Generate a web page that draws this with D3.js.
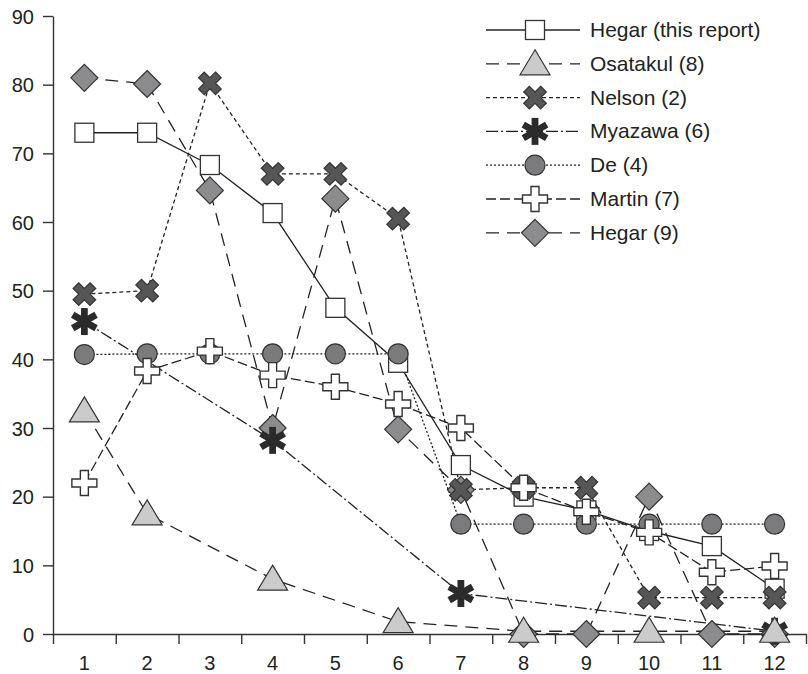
<!DOCTYPE html>
<html>
<head>
<meta charset="utf-8">
<script src="https://cdn.jsdelivr.net/npm/d3@7"></script>
<style>
  body { margin: 0; background: #fff; }
  svg { display: block; font-family: "Liberation Sans", Arial, sans-serif; }
  .axis path, .axis line { stroke: #333; stroke-width: 1.4; }
  .axis text { font-size: 20px; fill: #222; }
</style>
</head>
<body>
<svg id="chart" width="808" height="674"></svg>
<script>
// categories on the x axis
const categories = ["1", "2", "3", "4", "5", "6", "7", "8", "9", "10", "11", "12"];
const yTicks = [0, 10, 20, 30, 40, 50, 60, 70, 80, 90];

// series values (null = no point)
const hegarThis = [73, 73, 68.3, 61.3, 47.5, 39.5, 24.6, 20, 18, 15, 12.8, 6.6];
const osatakul = [32.5, 17.5, null, 8, null, 1.8, null, 0.4, null, 0.4, null, 0.4];
const nelson = [49.5, 50, 80.2, 67, 67, 60.5, 21, 21.3, 21.3, 5.3, 5.3, 5.3];
const myazawa = [45.5, null, null, 28.2, null, null, 5.9, null, null, null, null, 0.4];
const de = [40.7, 40.8, 40.8, 40.8, 40.8, 40.8, 16, 16, 16, 16, 16, 16];
const martin = [22, 38.3, 41.2, 37.7, 36, 33.5, 30, 21.3, 17.8, 14.8, 9, 9.9];
const hegar9 = [81, 80.1, 64.6, 30, 63.4, 29.8, 21, 0, 0, 20, 0, 0];

const legendNames = ["Hegar (this report)", "Osatakul (8)", "Nelson (2)", "Myazawa (6)", "De (4)", "Martin (7)", "Hegar (9)"];

// marker shapes
const plusPts = (a, t) => [[-t,-a],[t,-a],[t,-t],[a,-t],[a,t],[t,t],[t,a],[-t,a],[-t,t],[-a,t],[-a,-t],[-t,-t]];
const barPts = (a, t) => [[-t,-a],[t,-a],[t,a],[-t,a]];
const rotate = (pts, deg) => {
  const r = deg * Math.PI / 180;
  return pts.map(([x, y]) => [x * Math.cos(r) - y * Math.sin(r), x * Math.sin(r) + y * Math.cos(r)]);
};
const toPath = (pts) => "M" + pts.map((p) => p.join(",")).join("L") + "Z";

const drawMarker = (g, type) => {
  if (type === "square") {
    g.append("rect").attr("x", -9.5).attr("y", -9.5).attr("width", 19).attr("height", 19)
      .attr("fill", "#fff").attr("stroke", "#333").attr("stroke-width", 1.3);
  } else if (type === "triangle") {
    g.append("path").attr("d", toPath([[0, -14], [15, 11], [-15, 11]]))
      .attr("fill", "#cbcbcb").attr("stroke", "#333").attr("stroke-width", 1.2);
  } else if (type === "x") {
    g.append("path").attr("d", toPath(rotate(plusPts(12, 4), 45)))
      .attr("fill", "#565656").attr("stroke", "#333").attr("stroke-width", 1.2);
  } else if (type === "asterisk") {
    [0, 60, 120].forEach((deg) => {
      g.append("path").attr("d", toPath(rotate(barPts(13.5, 3.4), deg)))
        .attr("fill", "#2b2b2b");
    });
  } else if (type === "circle") {
    g.append("circle").attr("r", 10)
      .attr("fill", "#7b7b7d").attr("stroke", "#333").attr("stroke-width", 1.2);
  } else if (type === "plus") {
    g.append("path").attr("d", toPath(plusPts(12.5, 4)))
      .attr("fill", "#fff").attr("stroke", "#333").attr("stroke-width", 1.4);
  } else if (type === "diamond") {
    g.append("path").attr("d", toPath([[0, -13.5], [13.5, 0], [0, 13.5], [-13.5, 0]]))
      .attr("fill", "#8c8c8e").attr("stroke", "#333").attr("stroke-width", 1.2);
  }
};

const series = [
  { name: legendNames[0], values: hegarThis, marker: "square", dash: null },
  { name: legendNames[1], values: osatakul, marker: "triangle", dash: "13,8" },
  { name: legendNames[2], values: nelson, marker: "x", dash: "4,3" },
  { name: legendNames[3], values: myazawa, marker: "asterisk", dash: "12,3,2,3" },
  { name: legendNames[4], values: de, marker: "circle", dash: "2,2" },
  { name: legendNames[5], values: martin, marker: "plus", dash: "10,4" },
  { name: legendNames[6], values: hegar9, marker: "diamond", dash: "13,8" }
];

// order in which the series are stacked (bottom to top)
const drawOrder = [6, 0, 3, 2, 1, 4, 5];

const svg = d3.select("#chart");

const x = d3.scaleBand().domain(categories).range([53, 806]).paddingInner(0).paddingOuter(0);
const xEdges = d3.scaleLinear().domain([0, 12]).range([53, 806]);
const y = d3.scaleLinear().domain([0, 90]).range([634, 16]);
const cx = (i) => x(categories[i]) + x.bandwidth() / 2;

// y axis
svg.append("g")
  .attr("class", "axis")
  .attr("transform", "translate(53,0)")
  .call(d3.axisLeft(y).tickValues(yTicks).tickSize(10).tickSizeOuter(0).tickPadding(9))
  .call((g) => g.selectAll("text").attr("dy", "0.36em"));

// x axis line + ticks at band edges
svg.append("g")
  .attr("class", "axis")
  .attr("transform", "translate(0,634)")
  .call(d3.axisBottom(xEdges).tickValues(d3.range(0, 13)).tickSize(10).tickSizeOuter(0).tickFormat(""));

// x labels at band centers
svg.append("g")
  .attr("class", "axis")
  .attr("transform", "translate(0,634)")
  .call(d3.axisBottom(x).tickSize(0).tickPadding(22))
  .call((g) => g.select(".domain").remove());

const line = d3.line().x((d) => cx(d.i)).y((d) => y(d.v));

const pointsOf = (s) => s.values.map((v, i) => ({ v, i })).filter((d) => d.v !== null);

// lines first
drawOrder.forEach((k) => {
  const s = series[k];
  svg.append("path")
    .datum(pointsOf(s))
    .attr("d", line)
    .attr("fill", "none")
    .attr("stroke", "#222")
    .attr("stroke-width", 1.3)
    .attr("stroke-dasharray", s.dash);
});

// then markers
drawOrder.forEach((k) => {
  const s = series[k];
  svg.append("g")
    .selectAll("g")
    .data(pointsOf(s))
    .join("g")
    .attr("transform", (d) => `translate(${cx(d.i)},${y(d.v)})`)
    .each(function () { drawMarker(d3.select(this), s.marker); });
});

// legend
const legend = svg.append("g").attr("transform", "translate(486,30)");
series.forEach((s, i) => {
  const row = legend.append("g").attr("transform", `translate(0,${i * 33.8})`);
  row.append("line")
    .attr("x1", 0).attr("x2", 94)
    .attr("stroke", "#222").attr("stroke-width", 1.3)
    .attr("stroke-dasharray", s.dash);
  drawMarker(row.append("g").attr("transform", "translate(49,0)"), s.marker);
  row.append("text")
    .attr("x", 104).attr("y", 7)
    .attr("font-size", 21)
    .attr("fill", "#222")
    .text(s.name);
});
</script>
</body>
</html>
